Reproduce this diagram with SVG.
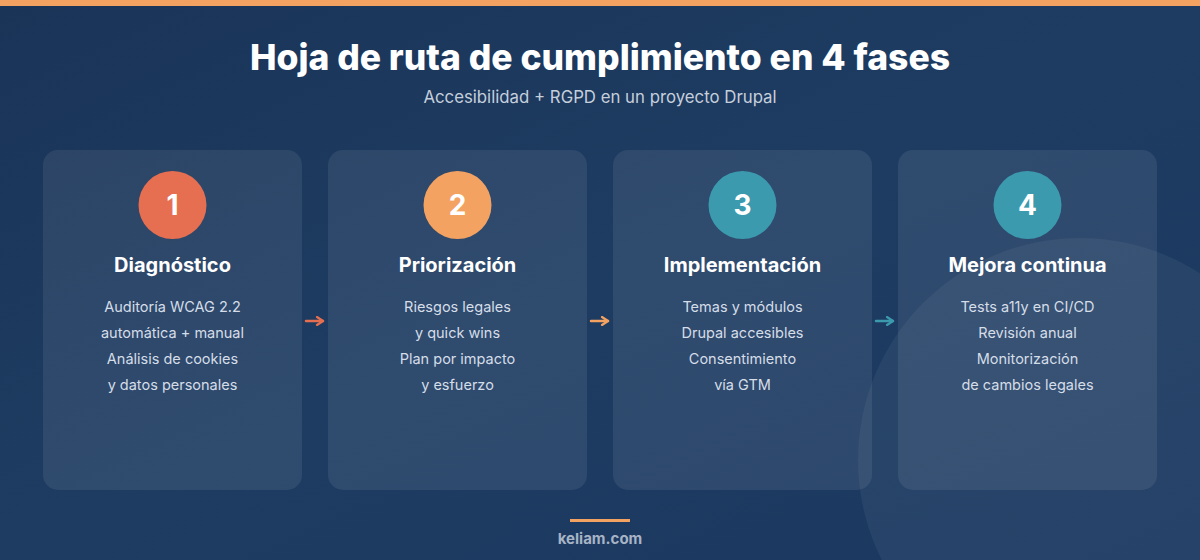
<svg xmlns="http://www.w3.org/2000/svg" width="1200" height="560" viewBox="0 0 1200 560">
  <defs>
    <linearGradient id="bg" x1="0" y1="0" x2="1" y2="1">
      <stop offset="0" stop-color="#1a3458"/>
      <stop offset="0.5" stop-color="#1e3c62"/>
      <stop offset="1" stop-color="#1b3860"/>
    </linearGradient>
    <marker id="ah1" viewBox="0 0 10 10" refX="8" refY="5" markerWidth="10" markerHeight="10" markerUnits="userSpaceOnUse" orient="auto">
      <path d="M2,1 L8,5 L2,9" fill="none" stroke="#E76F51" stroke-width="2.2" stroke-linecap="round" stroke-linejoin="round"/>
    </marker>
    <marker id="ah2" viewBox="0 0 10 10" refX="8" refY="5" markerWidth="10" markerHeight="10" markerUnits="userSpaceOnUse" orient="auto">
      <path d="M2,1 L8,5 L2,9" fill="none" stroke="#F4A261" stroke-width="2.2" stroke-linecap="round" stroke-linejoin="round"/>
    </marker>
    <marker id="ah3" viewBox="0 0 10 10" refX="8" refY="5" markerWidth="10" markerHeight="10" markerUnits="userSpaceOnUse" orient="auto">
      <path d="M2,1 L8,5 L2,9" fill="none" stroke="#3C9AAE" stroke-width="2.2" stroke-linecap="round" stroke-linejoin="round"/>
    </marker>
  </defs>
  <style>
    .card { fill: #ffffff; fill-opacity: 0.08; }
    .num { font-family: Inter, "Liberation Sans", sans-serif; font-weight: 700; font-size: 28px; fill: #ffffff; text-anchor: middle; }
    .ttl { font-family: Inter, "Liberation Sans", sans-serif; font-weight: 700; font-size: 20px; fill: #ffffff; text-anchor: middle; }
    .body { font-family: Inter, "Liberation Sans", sans-serif; font-weight: 400; font-size: 14.5px; fill: #d5dde8; text-anchor: middle; }
    .arrow { fill: none; stroke-width: 2.5; stroke-linecap: round; }
  </style>
  <rect x="0" y="0" width="1200" height="560" fill="url(#bg)"/>
  <circle cx="1080" cy="460" r="222" fill="#ffffff" fill-opacity="0.05"/>
  <rect x="0" y="0" width="1200" height="6" fill="#F4A261"/>

  <g id="header">
    <text x="600" y="70" font-family="Inter, 'Liberation Sans', sans-serif" font-weight="800" font-size="35.5" fill="#ffffff" text-anchor="middle">Hoja de ruta de cumplimiento en 4 fases</text>
    <text x="600" y="103" font-family="Inter, 'Liberation Sans', sans-serif" font-size="16.8" fill="#c5cfdc" text-anchor="middle">Accesibilidad + RGPD en un proyecto Drupal</text>
  </g>

  <g id="phase1">
    <rect class="card" x="43" y="150" width="259" height="340" rx="15"/>
    <circle cx="172.5" cy="205" r="34" fill="#E76F51"/>
    <text class="num" x="172.5" y="215">1</text>
    <text class="ttl" x="172.5" y="272">Diagnóstico</text>
    <text class="body" x="172.5" y="312">Auditoría WCAG 2.2</text>
    <text class="body" x="172.5" y="338">automática + manual</text>
    <text class="body" x="172.5" y="364">Análisis de cookies</text>
    <text class="body" x="172.5" y="390">y datos personales</text>
  </g>

  <g id="phase2">
    <rect class="card" x="328" y="150" width="259" height="340" rx="15"/>
    <circle cx="457.5" cy="205" r="34" fill="#F4A261"/>
    <text class="num" x="457.5" y="215">2</text>
    <text class="ttl" x="457.5" y="272">Priorización</text>
    <text class="body" x="457.5" y="312">Riesgos legales</text>
    <text class="body" x="457.5" y="338">y quick wins</text>
    <text class="body" x="457.5" y="364">Plan por impacto</text>
    <text class="body" x="457.5" y="390">y esfuerzo</text>
  </g>

  <g id="phase3">
    <rect class="card" x="613" y="150" width="259" height="340" rx="15"/>
    <circle cx="742.5" cy="205" r="34" fill="#3C9AAE"/>
    <text class="num" x="742.5" y="215">3</text>
    <text class="ttl" x="742.5" y="272">Implementación</text>
    <text class="body" x="742.5" y="312">Temas y módulos</text>
    <text class="body" x="742.5" y="338">Drupal accesibles</text>
    <text class="body" x="742.5" y="364">Consentimiento</text>
    <text class="body" x="742.5" y="390">vía GTM</text>
  </g>

  <g id="phase4">
    <rect class="card" x="898" y="150" width="259" height="340" rx="15"/>
    <circle cx="1027.5" cy="205" r="34" fill="#3C9AAE"/>
    <text class="num" x="1027.5" y="215">4</text>
    <text class="ttl" x="1027.5" y="272">Mejora continua</text>
    <text class="body" x="1027.5" y="312">Tests a11y en CI/CD</text>
    <text class="body" x="1027.5" y="338">Revisión anual</text>
    <text class="body" x="1027.5" y="364">Monitorización</text>
    <text class="body" x="1027.5" y="390">de cambios legales</text>
  </g>

  <g id="connectors">
    <line class="arrow" x1="306" y1="321" x2="323" y2="321" stroke="#E76F51" marker-end="url(#ah1)"/>
    <line class="arrow" x1="591" y1="321" x2="608" y2="321" stroke="#F4A261" marker-end="url(#ah2)"/>
    <line class="arrow" x1="876" y1="321" x2="893" y2="321" stroke="#3C9AAE" marker-end="url(#ah3)"/>
  </g>

  <g id="footer">
    <rect x="570" y="519" width="60" height="3" fill="#F4A261"/>
    <text x="600" y="544" font-family="Inter, 'Liberation Sans', sans-serif" font-weight="700" font-size="15" fill="#a7b4c5" text-anchor="middle">keliam.com</text>
  </g>
</svg>
